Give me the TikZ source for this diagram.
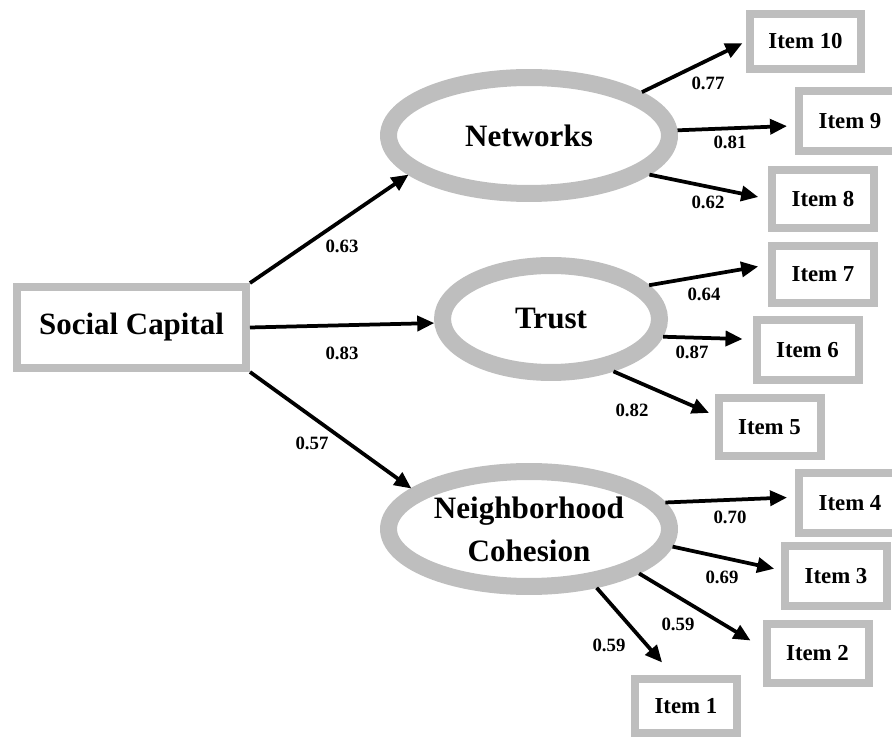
\documentclass[tikz,border=0pt]{standalone}
\usepackage{fontspec}
\setmainfont{Liberation Serif}
\usepackage{tikz}
\usetikzlibrary{shapes.geometric}
\usetikzlibrary{arrows.meta}
\definecolor{boxgray}{RGB}{190,190,190}

\begin{document}
\begin{tikzpicture}[x=0.02cm, y=-0.02cm, font=\bfseries,
  box node/.style={draw=boxgray, line width=0.16cm, rectangle, inner sep=0pt, minimum width=2.04cm, minimum height=1.16cm, font=\fontsize{13}{15}\selectfont\bfseries},
  latent node/.style={draw=boxgray, line width=0.34cm, ellipse, inner sep=0pt, align=center, font=\fontsize{17.7}{24.5}\selectfont\bfseries},
  load arrow/.style={line width=0.075cm, -{Triangle[length=0.34cm,width=0.3cm]}},
  coef/.style={inner sep=1pt, font=\fontsize{10.7}{12}\selectfont\bfseries}]
\useasboundingbox (0,0) rectangle (892,739);

\node (sc)[box node, minimum width=4.58cm, minimum height=1.62cm, font=\fontsize{17.6}{20}\selectfont\bfseries] at (131.5,327.5) {Social Capital};
\node (net)[latent node, minimum width=5.62cm, minimum height=2.32cm] at (529,135.5) {Networks};
\node (trust)[latent node, minimum width=4.34cm, minimum height=2.14cm] at (551,319) {Trust};
\node (nc)[latent node, minimum width=5.62cm, minimum height=2.3cm] at (529,529) {Neighborhood\\Cohesion};

\node (i10)[box node, minimum width=2.22cm, minimum height=1.1cm] at (805.5,41.5) {Item 10};
\node (i9)[box node, minimum height=1.2cm] at (850,121) {Item 9};
\node (i8)[box node] at (823,199) {Item 8};
\node (i7)[box node] at (823,274.5) {Item 7};
\node (i6)[box node, minimum height=1.2cm] at (807.5,350) {Item 6};
\node (i5)[box node] at (769.5,427) {Item 5};
\node (i4)[box node, minimum height=1.2cm] at (850,503) {Item 4};
\node (i3)[box node, minimum height=1.2cm] at (836,576) {Item 3};
\node (i2)[box node, minimum height=1.2cm] at (817.5,653.5) {Item 2};
\node (i1)[box node, minimum height=1.1cm] at (686,706) {Item 1};

\draw[load arrow] (sc.north east) -- (net.198);
\draw[load arrow] (sc.east) -- (trust.182);
\draw[load arrow] (sc.south east) -- (nc.161);

\draw[load arrow, shorten >=0.08cm] (net.21) -- (i10.west);
\draw[load arrow, shorten >=0.16cm] (net.2) -- (i9.185);
\draw[load arrow, shorten >=0.2cm] (net.-18) -- (i8.west);

\draw[load arrow, shorten >=0.2cm] (trust.19) -- (i7.170);
\draw[load arrow, shorten >=0.2cm] (trust.-9) -- (i6.169);
\draw[load arrow, shorten >=0.12cm] (trust.-40) -- (i5.168);

\draw[load arrow, shorten >=0.16cm] (nc.11) -- (i4.174);
\draw[load arrow, shorten >=0.14cm] (nc.-7) -- (i3.174);
\draw[load arrow, shorten >=0.28cm] (nc.-22) -- (i2.174);
\draw[load arrow, shorten >=0.32cm] (nc.-41) -- (i1.113);

\node (c63)[coef] at (342,246) {0.63};
\node (c83)[coef] at (342,353) {0.83};
\node (c57)[coef] at (312,443) {0.57};
\node (c77)[coef] at (708,83) {0.77};
\node (c81)[coef] at (730,142) {0.81};
\node (c62)[coef] at (708,202) {0.62};
\node (c64)[coef] at (704,294) {0.64};
\node (c87)[coef] at (692,352) {0.87};
\node (c82)[coef] at (632,410) {0.82};
\node (c70)[coef] at (730,517) {0.70};
\node (c69)[coef] at (722,577) {0.69};
\node (c59b)[coef] at (678,624) {0.59};
\node (c59a)[coef] at (609,645) {0.59};
\end{tikzpicture}
\end{document}
